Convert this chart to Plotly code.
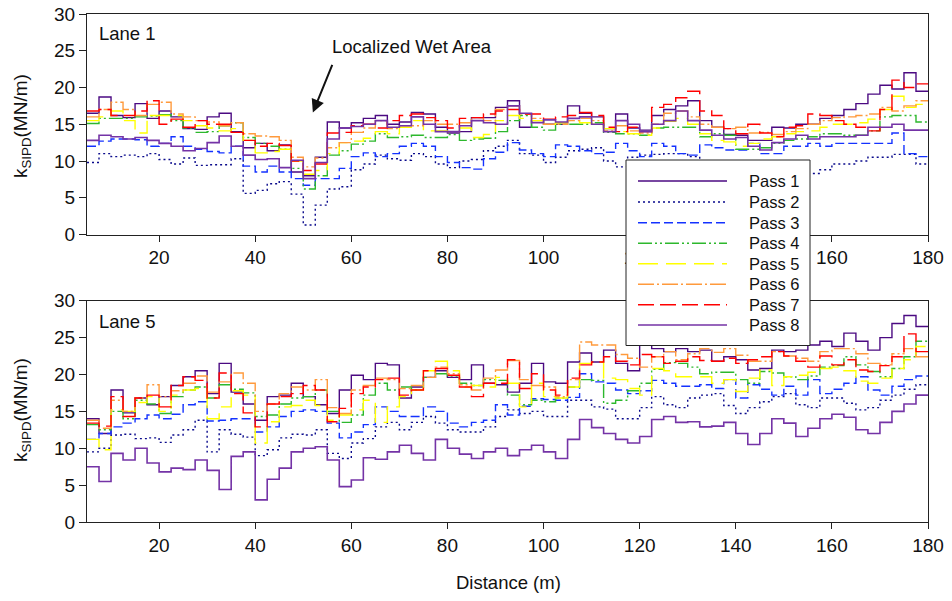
import plotly.graph_objects as go

# ---------------- data ----------------
DIST = [5.0, 7.5, 10.0, 12.5, 15.0, 17.5, 20.0, 22.5, 25.0, 27.5,
        30.0, 32.5, 35.0, 37.5, 40.0, 42.5, 45.0, 47.5, 50.0, 52.5,
        55.0, 57.5, 60.0, 62.5, 65.0, 67.5, 70.0, 72.5, 75.0, 77.5,
        80.0, 82.5, 85.0, 87.5, 90.0, 92.5, 95.0, 97.5, 100.0, 102.5,
        105.0, 107.5, 110.0, 112.5, 115.0, 117.5, 120.0, 122.5, 125.0, 127.5,
        130.0, 132.5, 135.0, 137.5, 140.0, 142.5, 145.0, 147.5, 150.0, 152.5,
        155.0, 157.5, 160.0, 162.5, 165.0, 167.5, 170.0, 172.5, 175.0, 177.5,
        180.0]

PASS_NAMES = ["Pass 1", "Pass 2", "Pass 3", "Pass 4", "Pass 5", "Pass 6", "Pass 7", "Pass 8"]
X_TICKS = [20, 40, 60, 80, 100, 120, 140, 160, 180]
Y_TICKS = [0, 5, 10, 15, 20, 25, 30]

# Lane 1
L1_P1 = [16.5, 18.7, 16.2, 15.9, 17.8, 15.8, 16.8, 16.0, 14.4, 14.3,
         16.0, 16.5, 14.0, 11.8, 12.4, 11.4, 12.2, 8.5, 8.0, 10.5,
         15.3, 14.5, 15.2, 15.8, 16.2, 15.0, 15.3, 16.6, 16.4, 14.6,
         13.8, 14.0, 15.9, 15.9, 17.3, 18.2, 14.6, 15.5, 15.0, 15.0,
         17.5, 16.5, 16.0, 14.4, 16.4, 14.5, 14.2, 16.2, 17.0, 17.5,
         18.2, 15.5, 14.6, 13.6, 13.5, 12.8, 12.8, 14.6, 14.5, 15.0,
         15.0, 15.8, 16.2, 17.0, 17.8, 19.1, 20.3, 19.8, 22.0, 19.5]
L1_P2 = [9.8, 11.0, 10.6, 10.8, 10.6, 11.0, 10.2, 9.6, 10.4, 9.4,
         9.5, 9.5, 10.3, 5.6, 6.0, 6.9, 7.2, 5.5, 1.3, 4.0,
         6.2, 6.5, 8.8, 9.6, 10.8, 10.3, 10.1, 11.0, 10.6, 9.6,
         9.1, 10.0, 10.2, 11.4, 12.0, 12.8, 11.0, 10.8, 9.8, 10.5,
         11.4, 11.6, 11.8, 10.0, 9.2, 10.5, 10.8, 10.9, 11.0, 11.0,
         10.6, 10.0, 9.5, 9.0, 8.8, 8.5, 8.5, 8.5, 8.3, 8.3,
         8.3, 8.8, 9.6, 9.6, 10.0, 10.5, 10.5, 10.9, 10.9, 9.6]
L1_P3 = [12.0, 12.7, 13.0, 13.0, 12.9, 12.0, 12.4, 13.3, 12.0, 11.6,
         11.3, 11.1, 12.0, 9.3, 8.5, 9.3, 8.5, 7.6, 6.7, 7.6,
         7.6, 9.0, 10.6, 11.1, 10.6, 11.0, 12.0, 12.4, 12.0, 10.6,
         9.8, 9.1, 8.9, 10.3, 11.2, 12.5, 11.5, 11.0, 10.6, 12.2,
         12.0, 11.4, 11.0, 11.2, 12.4, 11.4, 10.6, 12.4, 12.0, 11.0,
         10.8, 12.2, 11.8, 11.5, 11.5, 12.4, 11.0, 11.0, 12.0, 12.0,
         12.4, 12.0, 12.4, 12.4, 12.4, 12.4, 12.4, 13.8, 11.0, 10.6]
L1_P4 = [15.1, 15.8, 15.8, 15.8, 16.0, 16.1, 16.3, 15.5, 14.5, 13.9,
         14.0, 14.8, 15.2, 13.2, 12.4, 12.0, 11.6, 9.0, 6.2, 8.0,
         10.8, 11.4, 12.3, 12.7, 13.7, 13.2, 13.3, 13.5, 13.2, 13.2,
         13.6, 12.8, 13.0, 13.1, 14.0, 15.5, 16.2, 14.6, 14.2, 15.0,
         15.0, 15.0, 15.2, 13.9, 13.7, 13.7, 13.5, 14.5, 14.6, 14.6,
         14.6, 13.3, 13.7, 13.5, 11.6, 11.6, 11.8, 12.4, 12.8, 13.0,
         13.3, 13.7, 13.7, 13.5, 13.5, 14.1, 16.0, 16.2, 16.2, 15.3]
L1_P5 = [15.5, 16.0, 16.8, 15.5, 13.8, 16.2, 16.2, 16.2, 15.5, 14.8,
         14.5, 14.1, 14.4, 12.8, 11.1, 11.3, 11.6, 10.0, 8.2, 8.7,
         11.0, 12.5, 12.7, 13.1, 14.0, 13.7, 14.6, 15.5, 14.1, 14.1,
         14.0, 14.5, 13.2, 13.6, 15.5, 16.2, 15.8, 15.5, 15.0, 15.2,
         15.5, 15.2, 15.0, 14.4, 14.0, 13.7, 13.5, 14.5, 15.4, 15.8,
         15.0, 13.7, 12.8, 12.6, 12.0, 12.4, 13.0, 13.3, 13.7, 14.0,
         14.1, 14.6, 15.0, 15.0, 15.2, 15.7, 17.0, 18.8, 17.3, 17.7]
L1_P6 = [16.0, 17.0, 18.0, 17.0, 16.2, 17.7, 18.0, 16.4, 16.0, 15.5,
         15.3, 14.8, 15.2, 13.7, 13.4, 13.3, 12.8, 10.5, 9.2, 10.4,
         11.8, 12.5, 13.9, 14.5, 15.5, 14.4, 14.8, 14.8, 15.5, 15.0,
         15.0, 15.2, 15.9, 15.5, 17.0, 17.5, 16.4, 15.8, 15.0, 15.0,
         15.5, 15.8, 15.5, 14.1, 14.8, 14.1, 13.8, 15.0, 16.5, 16.8,
         16.0, 15.0, 14.6, 14.4, 14.6, 13.8, 13.9, 13.6, 14.0, 14.4,
         15.0, 15.5, 15.9, 16.0, 16.2, 16.4, 17.3, 16.8, 17.5, 18.2]
L1_P7 = [16.8, 17.0, 16.2, 16.2, 16.8, 18.2, 15.0, 15.7, 14.6, 15.5,
         15.0, 15.0, 13.9, 12.8, 12.0, 12.4, 12.1, 10.0, 8.7, 9.6,
         13.8, 13.9, 14.8, 15.0, 14.5, 15.5, 16.2, 16.4, 15.9, 15.5,
         14.5, 15.8, 15.9, 16.4, 16.8, 17.0, 16.4, 16.4, 15.7, 16.0,
         16.2, 16.6, 16.2, 14.6, 14.0, 14.6, 14.0, 17.3, 17.7, 18.6,
         19.5, 16.8, 16.2, 14.4, 13.7, 15.0, 13.8, 13.3, 14.6, 14.8,
         16.4, 16.2, 15.5, 15.0, 14.6, 14.1, 17.0, 21.0, 20.0, 20.5]
L1_P8 = [12.8, 13.5, 13.3, 13.0, 13.2, 12.8, 12.4, 12.0, 11.4, 11.7,
         12.5, 13.4, 12.0, 10.8, 10.2, 10.3, 9.1, 10.1, 7.6, 9.8,
         13.0, 14.5, 14.7, 15.0, 15.5, 14.6, 14.8, 16.0, 15.0, 14.0,
         14.0, 14.8, 15.5, 15.2, 15.0, 17.5, 16.5, 15.2, 15.6, 15.3,
         15.8, 16.0, 15.0, 14.0, 15.5, 15.0, 14.0, 15.0, 15.5, 16.8,
         15.5, 14.2, 13.5, 13.0, 13.2, 12.0, 11.5, 12.5, 13.0, 13.5,
         13.0, 13.3, 13.3, 13.3, 13.5, 14.6, 14.6, 15.0, 14.2, 14.2]

# Lane 5
L5_P1 = [14.0, 12.0, 17.9, 14.8, 16.8, 15.9, 17.0, 18.5, 19.7, 20.5,
         17.4, 21.5, 17.6, 16.0, 13.8, 17.0, 17.2, 18.8, 17.0, 15.9,
         14.7, 17.9, 19.9, 19.3, 21.5, 21.3, 16.8, 18.3, 19.6, 20.5,
         19.6, 19.3, 21.3, 18.8, 18.6, 17.6, 18.8, 21.5, 19.0, 18.8,
         21.7, 22.9, 21.7, 23.3, 21.5, 20.5, 24.0, 23.5, 23.1, 23.5,
         23.1, 23.3, 21.8, 22.4, 22.0, 20.6, 20.8, 23.3, 23.1, 23.3,
         24.0, 24.5, 23.8, 25.6, 24.5, 23.3, 25.0, 26.9, 28.0, 26.5]
L5_P2 = [9.5, 10.0, 11.8, 11.9, 11.3, 11.4, 10.8, 11.8, 12.5, 13.8,
         9.5, 12.5, 11.9, 11.5, 9.0, 9.8, 11.4, 11.9, 11.8, 12.5,
         9.3, 8.6, 10.7, 11.3, 12.9, 13.5, 12.5, 13.5, 14.3, 13.4,
         12.5, 12.2, 12.2, 12.9, 14.3, 15.2, 14.7, 15.0, 14.3, 14.3,
         16.5, 16.5, 15.6, 15.3, 14.0, 14.0, 15.5, 17.0, 15.9, 15.5,
         16.8, 17.2, 17.4, 15.8, 14.7, 15.5, 16.3, 17.0, 17.4, 15.9,
         15.5, 16.8, 16.8, 16.1, 15.2, 15.5, 16.5, 17.2, 18.0, 18.6]
L5_P3 = [11.2, 12.0, 12.9, 13.4, 14.0, 14.5, 14.0, 14.6, 15.9, 16.3,
         13.7, 13.8, 14.0, 14.0, 12.2, 12.9, 14.3, 15.0, 15.2, 15.0,
         13.4, 11.4, 12.2, 13.2, 15.6, 15.0, 14.3, 14.3, 15.6, 15.0,
         13.4, 12.9, 13.5, 13.8, 15.9, 14.5, 15.7, 16.7, 16.6, 16.5,
         16.9, 20.1, 19.0, 18.8, 17.9, 17.4, 17.8, 19.2, 18.8, 18.4,
         18.4, 18.6, 18.1, 19.3, 16.8, 18.6, 18.0, 17.2, 18.4, 17.2,
         19.3, 17.4, 18.0, 18.8, 19.7, 17.9, 17.2, 18.4, 19.3, 19.8]
L5_P4 = [13.2, 12.5, 15.0, 14.0, 16.5, 16.0, 14.7, 17.0, 17.9, 18.3,
         16.8, 18.6, 18.0, 17.5, 14.3, 14.5, 16.0, 16.8, 17.0, 17.9,
         15.0, 13.5, 14.5, 17.2, 18.8, 17.9, 18.3, 17.9, 19.6, 20.1,
         19.8, 18.8, 18.5, 19.3, 19.2, 17.2, 15.9, 16.5, 16.3, 16.8,
         18.3, 19.3, 19.2, 16.1, 16.5, 17.8, 18.8, 20.7, 21.6, 21.5,
         21.0, 20.1, 20.3, 20.3, 19.3, 18.8, 20.4, 20.2, 19.7, 19.3,
         19.8, 21.0, 21.2, 22.4, 21.3, 20.4, 19.7, 20.8, 22.4, 24.5]
L5_P5 = [11.2, 9.8, 15.2, 15.0, 16.2, 17.0, 15.0, 17.2, 17.9, 18.1,
         14.0, 15.6, 17.8, 17.2, 10.7, 13.6, 15.6, 15.8, 16.5, 15.8,
         13.8, 14.5, 15.2, 16.5, 13.5, 15.6, 17.0, 17.9, 20.5, 21.8,
         20.5, 18.3, 18.5, 18.3, 19.6, 18.8, 15.6, 18.8, 17.0, 16.8,
         18.3, 21.5, 21.7, 19.5, 19.3, 18.1, 17.2, 20.8, 20.5, 19.7,
         19.7, 19.7, 18.8, 19.3, 17.7, 19.5, 20.6, 18.5, 19.7, 19.9,
         20.3, 20.8, 21.0, 20.5, 19.1, 18.8, 19.5, 20.8, 22.0, 23.8]
L5_P6 = [13.8, 12.7, 16.5, 15.0, 16.8, 18.6, 17.0, 17.8, 18.8, 19.8,
         17.6, 19.0, 20.2, 18.8, 15.0, 16.0, 17.4, 18.3, 17.9, 19.3,
         15.5, 14.7, 17.9, 18.5, 19.5, 19.3, 18.1, 18.5, 19.6, 21.0,
         20.1, 18.6, 17.9, 19.5, 20.6, 21.9, 19.3, 18.5, 18.3, 17.0,
         19.3, 24.4, 24.0, 24.0, 22.7, 22.2, 21.0, 22.4, 23.1, 22.0,
         22.8, 23.5, 23.0, 23.5, 22.6, 21.8, 21.8, 23.1, 22.5, 22.2,
         21.8, 23.1, 23.5, 23.5, 22.8, 21.5, 21.3, 22.8, 23.5, 22.4]
L5_P7 = [13.4, 13.0, 17.0, 14.3, 16.8, 17.2, 15.6, 18.5, 19.7, 19.2,
         16.8, 20.2, 17.4, 14.8, 12.9, 16.0, 17.0, 17.4, 18.5, 17.9,
         13.6, 15.4, 17.4, 18.3, 19.3, 19.5, 17.2, 17.9, 20.5, 20.8,
         19.9, 18.3, 17.0, 18.8, 18.8, 22.0, 18.1, 20.1, 17.9, 17.2,
         19.5, 21.3, 21.7, 22.4, 21.8, 21.3, 22.7, 22.4, 21.5, 21.8,
         22.4, 21.9, 21.8, 22.2, 21.5, 22.0, 22.4, 23.1, 22.5, 21.8,
         21.0, 22.5, 21.3, 22.0, 20.6, 20.4, 21.2, 22.4, 25.5, 23.1]
L5_P8 = [7.5, 5.5, 9.3, 8.4, 10.0, 8.0, 6.8, 7.3, 7.1, 8.4,
         7.0, 4.4, 8.9, 9.5, 3.0, 5.8, 7.3, 9.5, 10.0, 10.2,
         8.4, 4.8, 5.7, 8.7, 8.5, 9.5, 10.4, 9.3, 8.4, 11.2,
         10.0, 9.2, 8.6, 9.5, 10.0, 9.0, 9.8, 10.4, 9.5, 8.6,
         11.2, 13.9, 12.8, 12.0, 11.2, 10.7, 11.6, 13.9, 14.3, 13.5,
         13.6, 12.9, 13.0, 13.5, 12.0, 10.5, 12.0, 14.0, 13.4, 11.6,
         12.7, 14.0, 14.6, 14.2, 12.5, 12.0, 13.5, 15.0, 16.0, 17.2]

LANE1 = [L1_P1, L1_P2, L1_P3, L1_P4, L1_P5, L1_P6, L1_P7, L1_P8]
LANE5 = [L5_P1, L5_P2, L5_P3, L5_P4, L5_P5, L5_P6, L5_P7, L5_P8]

# ---------------- styles ----------------
COLORS = ["#4B0A82", "#0A0A8C", "#1432FF", "#2DB82D", "#FFFF00", "#FF9A3C", "#FF0000", "#7433A6"]
DASHES = ["solid", "2px,3px", "9px,4px", "14px,3px,2px,3px,2px,3px", "20px,8px",
          "16px,3px,2px,3px", "16px,6px", "solid"]
WIDTHS = [1.4, 1.4, 1.4, 1.4, 1.4, 1.4, 1.4, 1.6]
FONT = "Liberation Sans, Arial, sans-serif"

W, H = 952, 601
ML, MR, MT, MB = 87, 24, 14, 79
PW, PH = W - ML - MR, H - MT - MB


def px_x(p):
    return (p - ML) / PW


def px_y(p):
    return (H - MB - p) / PH


fig = go.Figure()
for lane, xa, ya in [(LANE1, "x", "y"), (LANE5, "x2", "y2")]:
    for i, vals in enumerate(lane):
        fig.add_trace(go.Scatter(
            x=DIST, y=vals + [vals[-1]], mode="lines", line_shape="hv",
            line=dict(color=COLORS[i], dash=DASHES[i], width=WIDTHS[i]),
            name=PASS_NAMES[i], showlegend=False, xaxis=xa, yaxis=ya,
            hoverinfo="skip"))

axis_common = dict(showline=True, linecolor="#222", linewidth=1, mirror=True,
                   ticks="outside", tickcolor="#222", showgrid=False, zeroline=False,
                   automargin=False,
                   tickfont=dict(family=FONT, size=19, color="#111"))

fig.update_layout(
    width=W, height=H, margin=dict(l=ML, r=MR, t=MT, b=MB, autoexpand=False),
    paper_bgcolor="white", plot_bgcolor="white",
    font=dict(family=FONT, size=16, color="#111"),
    xaxis=dict(domain=[0, 1], anchor="y", range=[5, 180], tickvals=X_TICKS, ticklen=6, **axis_common),
    yaxis=dict(domain=[px_y(234.5), 1], anchor="x", range=[0, 30], tickvals=Y_TICKS, ticklen=7, **axis_common),
    xaxis2=dict(domain=[0, 1], anchor="y2", range=[5, 180], tickvals=X_TICKS, ticklen=6, **axis_common),
    yaxis2=dict(domain=[0, px_y(300.7)], anchor="x2", range=[0, 30], tickvals=Y_TICKS, ticklen=7, **axis_common),
)

TXT = 18.5
ann = []
ytitle = "k<sub>SIPD</sub>(MN/m)"
ann.append(dict(text=ytitle, xref="paper", yref="paper", x=px_x(22), y=px_y(126), textangle=-90,
                showarrow=False, xanchor="center", yanchor="middle", font=dict(size=19)))
ann.append(dict(text=ytitle, xref="paper", yref="paper", x=px_x(22), y=px_y(410), textangle=-90,
                showarrow=False, xanchor="center", yanchor="middle", font=dict(size=19)))
ann.append(dict(text="Distance (m)", xref="paper", yref="paper", x=px_x(508), y=px_y(582),
                showarrow=False, xanchor="center", yanchor="middle", font=dict(size=TXT)))
ann.append(dict(text="Lane 1", xref="paper", yref="paper", x=px_x(97), y=px_y(33),
                showarrow=False, xanchor="left", yanchor="middle", font=dict(size=TXT)))
ann.append(dict(text="Lane 5", xref="paper", yref="paper", x=px_x(97), y=px_y(321),
                showarrow=False, xanchor="left", yanchor="middle", font=dict(size=TXT)))
ann.append(dict(text="Localized Wet Area", xref="x", yref="y", x=55.6, y=25.6,
                showarrow=False, xanchor="left", yanchor="middle", font=dict(size=TXT)))
ann.append(dict(text="", xref="x", yref="y", x=52.0, y=16.6, ax=20, ay=-49,
                showarrow=True, arrowhead=2, arrowsize=1.3, arrowwidth=2, arrowcolor="#111"))

shapes = []
# legend box
shapes.append(dict(type="rect", xref="paper", yref="paper", x0=px_x(626), x1=px_x(810),
                   y0=px_y(345.5), y1=px_y(160), fillcolor="white",
                   line=dict(color="#222", width=1), layer="above"))
row_y = [181, 202, 222.7, 243.3, 263.7, 284.3, 304.7, 325]
for i, name in enumerate(PASS_NAMES):
    shapes.append(dict(type="line", xref="paper", yref="paper", x0=px_x(638), x1=px_x(727),
                       y0=px_y(row_y[i]), y1=px_y(row_y[i]),
                       line=dict(color=COLORS[i], dash=DASHES[i], width=WIDTHS[i]), layer="above"))
    ann.append(dict(text=name, xref="paper", yref="paper", x=px_x(747), y=px_y(row_y[i]),
                    showarrow=False, xanchor="left", yanchor="middle", font=dict(size=16.5)))

fig.update_layout(annotations=ann, shapes=shapes)
fig.write_html("out.html")
